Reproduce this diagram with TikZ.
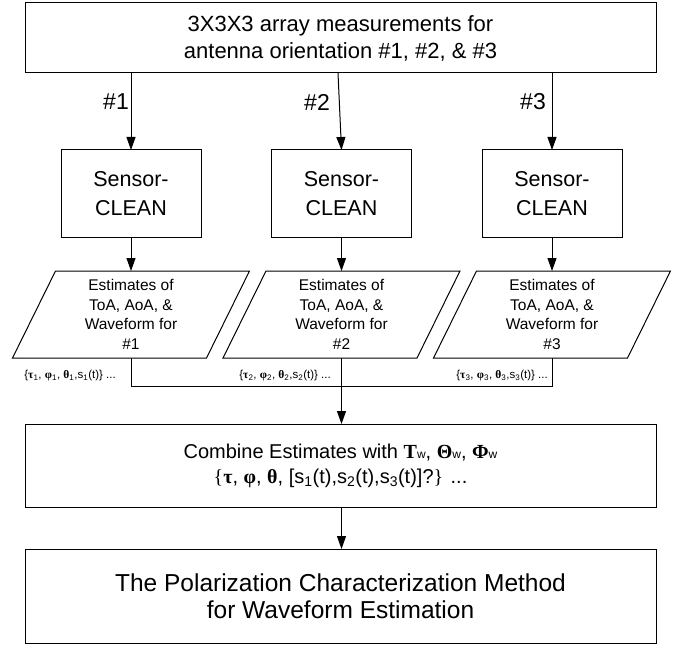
\documentclass[tikz,border=0pt]{standalone}
\usepackage{fontspec}
\setmainfont{Liberation Sans}
\newfontfamily\grk{Liberation Serif}
\usetikzlibrary{arrows.meta,calc}
\newcommand\grkb[1]{{\grk\bfseries #1}}
\newcommand\estlab[1]{\{\grkb{τ}\textsubscript{#1}, \grkb{φ}\textsubscript{#1}, \grkb{θ}\textsubscript{#1},s\textsubscript{#1}(t)\} ...}
\newcommand\subw{{\fontsize{12}{12}\selectfont w}}
\begin{document}
\begin{tikzpicture}[x=1pt,y=-1pt,
  line/.style={line width=1pt, draw=black},
  arr/.style={line, -{Triangle[length=13pt,width=9pt]}},
  box/.style={line, rectangle, inner sep=0pt, outer sep=0pt, align=center},
  sensorbox/.style={box, minimum width=140pt, minimum height=87pt, font=\fontsize{21.5}{29}\selectfont},
  ptext/.style={inner sep=0pt, outer sep=0pt, minimum width=194pt, minimum height=87pt, align=center, font=\fontsize{15.5}{19.7}\selectfont},
  hashlab/.style={inner sep=0pt, anchor=east, font=\fontsize{23}{23}\selectfont},
  smalllab/.style={inner sep=0pt, anchor=east, font=\fontsize{11.5}{11.5}\selectfont},
]
\useasboundingbox (0,0) rectangle (684,644);

\node[box, minimum width=631pt, minimum height=70pt, font=\fontsize{22}{27}\selectfont] (top) at (340.5,38)
  {3X3X3 array measurements for\\antenna orientation \#1, \#2, \& \#3};

\node[sensorbox] (s1) at (131,193.5) {Sensor-\\CLEAN};
\node[sensorbox] (s2) at (341.5,193.5) {Sensor-\\CLEAN};
\node[sensorbox] (s3) at (552,193.5) {Sensor-\\CLEAN};

\node[ptext] (p1) at (131,314.5) {Estimates of\\ToA, AoA, \&\\Waveform for\\\#1};
\node[ptext] (p2) at (341.5,314.5) {Estimates of\\ToA, AoA, \&\\Waveform for\\\#2};
\node[ptext] (p3) at (552,314.5) {Estimates of\\ToA, AoA, \&\\Waveform for\\\#3};
\foreach \p in {p1,p2,p3}
  \draw[line] ([xshift=-75.5pt]\p.north) -- ([xshift=118.5pt]\p.north)
     -- ([xshift=75.5pt]\p.south) -- ([xshift=-118.5pt]\p.south) -- cycle;

\node[box, minimum width=631pt, minimum height=83pt, font=\fontsize{20}{25}\selectfont] (comb) at (340.5,465.5)
  {Combine Estimates with \grkb{T}\subw, \grkb{Θ}\subw, \grkb{Φ}\subw\\
   {\grk\{}\grkb{τ}, \grkb{φ}, \grkb{θ}, [s\textsubscript{1}(t),s\textsubscript{2}(t),s\textsubscript{3}(t)]?{\grk\}} ...};

\node[box, minimum width=631pt, minimum height=94pt, font=\fontsize{24.5}{26.5}\selectfont] (fin) at (340.5,596)
  {The Polarization Characterization Method\\for Waveform Estimation};

% arrows from top box
\draw[arr] (top.south -| s1.north) -- (s1.north);
\draw[arr] ([xshift=-3.5pt]top.south -| s2.north) -- (s2.north);
\draw[arr] (top.south -| s3.north) -- (s3.north);
\node[hashlab] (h1) at (129,102) {\#1};
\node[hashlab] (h2) at (330,102) {\#2};
\node[hashlab] (h3) at (546,102) {\#3};

% sensor to estimates
\draw[arr] (s1.south) -- (p1.north);
\draw[arr] (s2.south) -- (p2.north);
\draw[arr] (s3.south) -- (p3.north);

% labels
\node[smalllab] (l1) at (116,376) {\estlab{1}};
\node[smalllab] (l2) at (331,376) {\estlab{2}};
\node[smalllab] (l3) at (548,376) {\estlab{3}};

% junction
\draw[line] (p1.south) -- ++(0,28) coordinate (j1) -| (p3.south);
\draw[arr] (p2.south) -- (p2.south |- comb.north);
\draw[arr] (comb.south -| p2.south) -- (fin.north -| p2.south);
\end{tikzpicture}
\end{document}
